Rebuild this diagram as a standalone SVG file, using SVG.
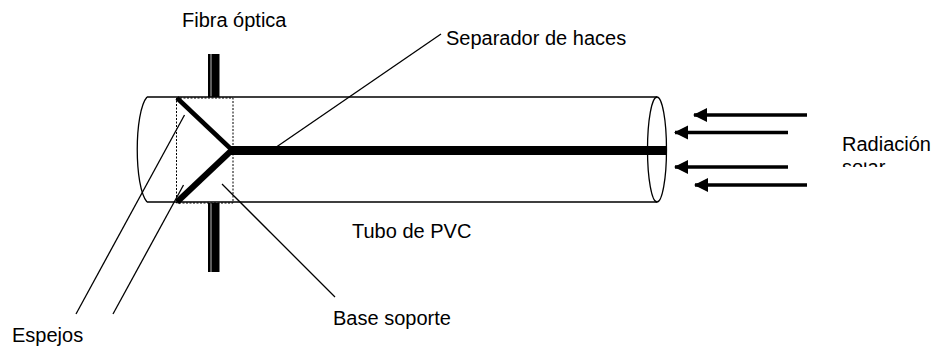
<svg xmlns="http://www.w3.org/2000/svg" width="935" height="347" viewBox="0 0 935 347">
<style>
text{font-family:"Liberation Sans",Arial,sans-serif;font-size:20px;fill:#000}
.l{stroke:#000;stroke-width:1.3;fill:none}
.a{stroke:#000;stroke-width:3.5;fill:none;marker-start:url(#h)}
</style>
<defs>
<marker id="h" markerUnits="userSpaceOnUse" markerWidth="15" markerHeight="15" refX="1" refY="7.5" orient="auto"><path d="M0 7.5L14 0.5V14.5Z" fill="#000"/></marker>
<clipPath id="c"><rect x="830" y="162.500" width="105" height="4.500"/></clipPath>
</defs>
<rect width="935" height="347" fill="#fff"/>
<g id="fibra">
<rect x="208" y="54" width="11.500" height="43" fill="#000"/>
<rect x="208" y="203" width="11.500" height="69" fill="#000"/>
<path d="M211 54V97M211 203V272" stroke="#bbb" stroke-width="1" fill="none"/>
</g>
<g id="tubo">
<path class="l" d="M147 97H657M147 202H657"/>
<path class="l" d="M147 97C134 112 134 187 147 202"/>
<ellipse class="l" cx="657" cy="149.500" rx="9.500" ry="52.500"/>
</g>
<g id="base">
<rect x="176.500" y="98" width="56.500" height="105" fill="none" stroke="#000" stroke-width="1" stroke-dasharray="2 1.500"/>
</g>
<g id="espejos">
<path d="M177 98L232 150" stroke="#000" stroke-width="4.500" fill="none"/>
<path d="M177 202L232 150" stroke="#000" stroke-width="6" fill="none"/>
</g>
<g id="separador">
<path d="M231 150.500H666" stroke="#000" stroke-width="9" fill="none"/>
</g>
<g id="connectors">
<path class="l" d="M184.500 115L76 314"/>
<path class="l" d="M183.500 185L113 314"/>
<path class="l" d="M222 184L335 297"/>
<path class="l" d="M272 150L441 34"/>
<path class="a" d="M694 115H807"/>
<path class="a" d="M675 132.500H788"/>
<path class="a" d="M675 167H788"/>
<path class="a" d="M695 185H807"/>
</g>
<g id="labels">
<text x="182" y="27">Fibra óptica</text>
<text x="446" y="45">Separador de haces</text>
<text x="352" y="238">Tubo de PVC</text>
<text x="333" y="325">Base soporte</text>
<text x="12" y="342">Espejos</text>
<text x="842" y="151">Radiación</text>
<text x="842" y="174" clip-path="url(#c)">solar</text>
</g>
</svg>
